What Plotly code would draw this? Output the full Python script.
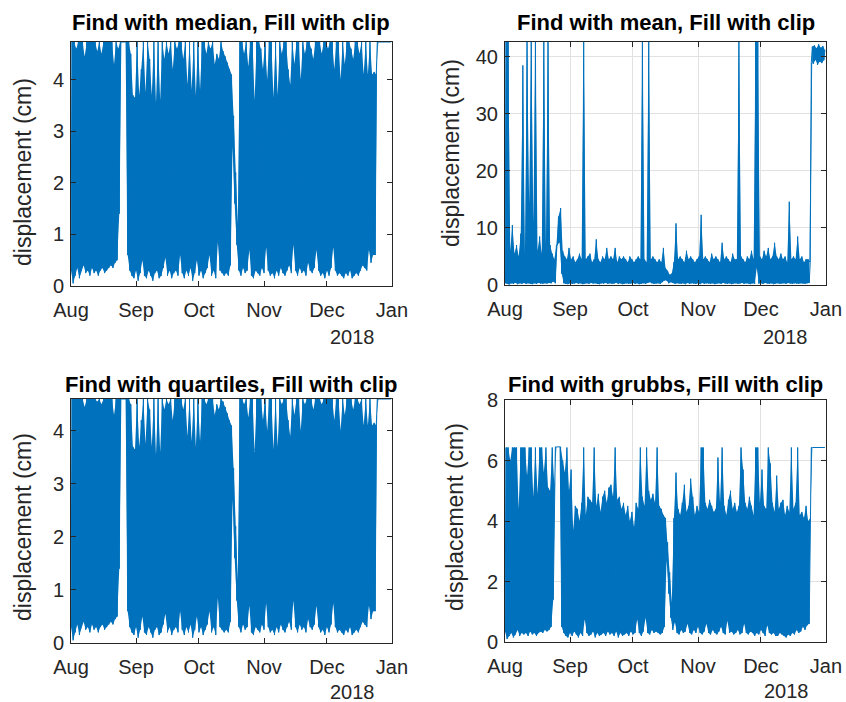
import pandas as pd
import plotly.graph_objects as go

# ---------------- data ----------------
START = "2018-08-01"
N_DAYS = 153  # Aug 1 .. Dec 31 (one low / high sample pair per day)
MONTH_TICKS = ["2018-08-01", "2018-09-01", "2018-10-01", "2018-11-01", "2018-12-01", "2019-01-01"]
MONTH_LABELS = ["Aug", "Sep", "Oct", "Nov", "Dec", "Jan"]
YEAR_LABEL = "2018"
TITLES = ["Find with median, Fill with clip", "Find with mean, Fill with clip",
          "Find with quartiles, Fill with clip", "Find with grubbs, Fill with clip"]
Y_LABEL = "displacement (cm)"

CLIP_MEDIAN = 4.73
CLIP_MEAN = 42.6
CLIP_QUART = 4.6
CLIP_GRUBBS = 6.43

Y_TICKS_SMALL = [0, 1, 2, 3, 4]
Y_TICKS_MEAN = [0, 10, 20, 30, 40]
Y_TICKS_GRUBBS = [0, 2, 4, 6, 8]

hi_median = [
    4.73, 4.73, 4.6, 4.73, 4.73, 4.73, 4.45, 4.73, 4.73, 4.73,
    4.73, 4.73, 4.55, 4.73, 4.5, 4.73, 4.73, 4.73, 4.73, 4.73,
    4.3, 4.73, 4.6, 4.73, 4.73, 4.73, 4.73, 4.73, 4.5, 3.7,
    3.65, 4.73, 3.7, 4.2, 4.73, 3.75, 4.73, 4.4, 3.7, 4.73,
    3.55, 4.73, 3.6, 4.73, 4.4, 4.73, 4.5, 4.73, 4.2, 4.73,
    4.6, 4.73, 4.73, 4.4, 4.73, 3.9, 4.73, 3.8, 4.73, 3.7,
    4.73, 3.8, 4.73, 4.73, 4.5, 4.73, 4.6, 4.73, 4.3, 4.5,
    4.4, 4.73, 4.55, 4.45, 4.33, 4.2, 4.1, 3.3, 2.2, 1.2,
    4.73, 4.73, 4.5, 4.73, 4.25, 4.73, 4.73, 3.6, 4.73, 4.73,
    4.6, 4.2, 4.73, 4.0, 4.73, 4.73, 3.65, 4.73, 3.7, 4.73,
    4.5, 4.73, 4.73, 4.2, 3.9, 4.73, 4.3, 4.73, 4.73, 4.0,
    4.73, 4.5, 4.73, 4.73, 4.6, 4.4, 4.73, 4.73, 4.73, 4.5,
    4.73, 4.73, 4.6, 4.73, 4.73, 4.2, 4.73, 4.73, 4.0, 4.73,
    4.3, 4.73, 4.73, 4.6, 4.4, 4.73, 4.73, 4.5, 4.73, 4.1,
    4.73, 4.1, 4.73, 4.1, 4.15, 4.1, 4.73, 4.73, 4.73, 4.73,
    4.73, 4.73, 4.73,
]
lo_median = [
    0.3, 0.05, 0.2, 0.35, 0.15, 0.3, 0.4, 0.25, 0.3, 0.2,
    0.35, 0.25, 0.3, 0.2, 0.3, 0.35, 0.25, 0.3, 0.35, 0.4,
    0.35, 0.45, 0.5, 1.4, 4.73, 4.73, 4.73, 0.6, 0.3, 0.2,
    0.15, 0.3, 0.1, 0.25, 0.5, 0.2, 0.15, 0.3, 0.2, 0.1,
    0.25, 0.3, 0.15, 0.2, 0.35, 0.55, 0.2, 0.3, 0.15, 0.25,
    0.3, 0.2, 0.6, 0.25, 0.15, 0.3, 0.2, 0.35, 0.1, 0.25,
    0.5, 0.2, 0.3, 0.15, 0.25, 0.35, 0.6, 0.2, 0.3, 0.15,
    0.85, 0.3, 0.25, 0.2, 0.25, 0.2, 0.4, 2.7, 1.6, 0.8,
    0.3, 0.2, 0.35, 0.25, 0.3, 0.7, 0.2, 0.15, 0.3, 0.25,
    0.2, 0.35, 0.25, 0.75, 0.3, 0.2, 0.25, 0.15, 0.3, 0.2,
    0.35, 0.25, 0.2, 0.3, 0.4, 0.25, 0.8, 0.3, 0.2, 0.35,
    0.25, 0.3, 0.2, 0.45, 0.3, 0.25, 0.35, 0.7, 0.3, 0.2,
    0.25, 0.15, 0.3, 0.2, 0.35, 0.75, 0.3, 0.2, 0.25, 0.2,
    0.15, 0.25, 0.2, 0.3, 0.15, 0.2, 0.25, 0.2, 0.3, 0.4,
    0.35, 0.3, 0.7, 0.45, 0.6, 0.6, 4.73, 4.73, 4.73, 4.73,
    4.73, 4.73, 4.73,
]

hi_mean = [
    42.6, 42.6, 6.0, 10.5, 5.5, 7.0, 5.0, 9.0, 38.5, 5.5,
    42.6, 14.3, 42.6, 11.0, 42.6, 6.0, 8.5, 5.5, 42.6, 7.0,
    42.6, 7.0, 5.5, 4.5, 7.0, 12.0, 13.5, 6.0, 5.0, 4.5,
    6.5, 4.5, 5.0, 4.0, 4.5, 5.5, 4.5, 42.6, 4.5, 5.0,
    5.5, 4.0, 4.5, 8.0, 4.5, 4.0, 5.0, 4.5, 6.5, 4.5,
    5.0, 4.5, 6.5, 4.0, 5.0, 4.5, 5.0, 4.5, 4.0, 5.0,
    4.5, 4.0, 4.5, 5.0, 4.5, 42.6, 4.5, 4.0, 42.6, 4.5,
    5.0, 4.5, 4.0, 4.5, 4.0, 6.5, 3.0, 2.5, 1.8, 2.0,
    4.0, 10.8, 4.5, 5.0, 4.5, 4.0, 6.0, 4.5, 5.0, 4.5,
    4.0, 4.5, 5.0, 12.3, 4.5, 5.0, 4.5, 4.0, 5.5, 4.5,
    5.0, 4.5, 4.0, 7.4, 4.5, 5.0, 4.5, 4.0, 5.5, 4.5,
    4.5, 42.6, 5.0, 4.5, 4.0, 5.0, 4.5, 6.0, 4.5, 42.6,
    42.6, 5.0, 4.5, 6.0, 5.0, 6.5, 4.5, 5.0, 7.4, 5.0,
    4.5, 5.5, 4.5, 5.0, 4.0, 14.6, 4.5, 5.0, 4.5, 8.5,
    4.5, 5.0, 4.0, 4.5, 4.5, 4.0, 41.8, 42.0, 41.5, 42.2,
    41.6, 41.9, 41.2,
]
lo_mean = [
    0.3, 0.2, 0.1, 0.3, 0.2, 0.4, 0.15, 0.3, 0.2, 0.35,
    0.2, 0.3, 0.25, 0.15, 0.3, 0.2, 0.35, 0.25, 0.2, 0.3,
    0.25, 0.35, 0.3, 0.6, 0.3, 7.0, 7.5, 2.0, 0.3, 0.2,
    0.15, 0.3, 0.2, 0.25, 0.35, 0.2, 0.3, 0.15, 0.25, 0.3,
    0.2, 0.35, 0.25, 0.3, 0.2, 0.15, 0.3, 0.25, 0.35, 0.2,
    0.3, 0.2, 0.25, 0.4, 0.2, 0.3, 0.15, 0.25, 0.3, 0.2,
    0.25, 0.35, 0.2, 0.3, 0.15, 0.25, 0.3, 0.2, 0.35, 0.5,
    0.3, 0.2, 0.25, 0.3, 0.2, 0.5, 0.8, 0.8, 0.3, 0.5,
    0.4, 0.2, 0.3, 0.25, 0.2, 0.3, 0.15, 0.35, 0.2, 0.3,
    0.25, 0.2, 0.3, 0.15, 0.35, 0.2, 0.3, 0.25, 0.2, 0.3,
    0.15, 0.25, 0.3, 0.2, 0.35, 0.25, 0.2, 0.3, 0.15, 0.25,
    0.3, 0.2, 0.25, 0.35, 0.2, 0.3, 0.25, 0.15, 0.3, 0.2,
    3.0, 0.25, 0.3, 0.2, 0.35, 0.25, 0.2, 0.3, 0.15, 0.25,
    0.3, 0.2, 0.25, 0.3, 0.2, 0.35, 0.25, 0.2, 0.3, 0.25,
    0.2, 0.3, 0.25, 0.2, 0.3, 0.35, 39.0, 38.8, 39.5, 38.6,
    39.2, 38.9, 39.4,
]

hi_grubbs = [
    6.43, 6.43, 6.0, 6.43, 6.43, 6.43, 4.4, 6.43, 6.43, 6.43,
    5.5, 6.43, 6.43, 4.8, 6.43, 4.9, 6.43, 6.43, 5.6, 6.43,
    5.1, 5.0, 6.43, 5.2, 6.45, 6.45, 6.45, 6.0, 5.6, 6.43,
    5.0, 5.7, 3.7, 4.5, 4.4, 4.0, 4.6, 6.43, 4.2, 4.8,
    4.7, 4.6, 6.43, 4.5, 4.9, 4.3, 4.8, 5.0, 4.6, 5.1,
    5.2, 4.8, 6.43, 4.7, 4.8, 4.4, 4.6, 4.2, 4.5, 4.0,
    4.3, 3.8, 4.6, 4.4, 6.43, 4.8, 4.5, 6.43, 5.0, 4.7,
    4.9, 4.6, 6.43, 4.5, 4.4, 4.2, 4.1, 3.3, 2.3, 1.3,
    4.1, 5.6, 4.4, 4.2, 4.6, 5.2, 4.3, 4.5, 5.4, 4.8,
    4.2, 4.5, 4.3, 6.43, 6.43, 4.6, 4.4, 4.7, 4.5, 4.3,
    4.4, 6.1, 4.6, 6.43, 4.5, 4.2, 4.7, 5.0, 4.4, 4.6,
    4.3, 4.5, 6.43, 5.7, 4.6, 4.4, 4.8, 4.5, 4.2, 6.43,
    6.43, 4.6, 5.7, 4.5, 4.4, 6.43, 5.9, 4.6, 4.3, 5.5,
    4.4, 4.6, 4.7, 4.2, 4.5, 4.3, 6.43, 4.4, 4.6, 6.43,
    4.2, 4.3, 4.1, 4.5, 4.0, 4.1, 6.43, 6.43, 6.43, 6.43,
    6.43, 6.43, 6.43,
]
lo_grubbs = [
    0.35, 0.1, 0.2, 0.3, 0.15, 0.25, 0.4, 0.2, 0.3, 0.25,
    0.3, 0.2, 0.35, 0.25, 0.3, 0.2, 0.3, 0.35, 0.3, 0.4,
    0.35, 0.4, 0.5, 1.4, 6.45, 6.45, 6.45, 0.5, 0.3, 0.2,
    0.15, 0.3, 0.2, 0.35, 0.25, 0.15, 0.3, 0.2, 0.75, 0.3,
    0.2, 0.25, 0.35, 0.15, 0.3, 0.2, 0.25, 0.3, 0.2, 0.35,
    0.25, 0.3, 0.2, 0.35, 0.15, 0.3, 0.2, 0.25, 0.3, 0.2,
    0.35, 0.25, 0.3, 0.75, 0.3, 0.2, 0.35, 0.8, 0.3, 0.25,
    0.4, 0.3, 0.35, 0.3, 0.25, 0.3, 0.5, 2.7, 1.6, 0.8,
    0.4, 0.65, 0.3, 0.25, 0.4, 0.3, 0.35, 0.6, 0.3, 0.25,
    0.4, 0.3, 0.5, 0.3, 0.25, 0.35, 0.6, 0.3, 0.25, 0.4,
    0.3, 0.25, 0.35, 0.5, 0.3, 0.25, 0.7, 0.3, 0.35, 0.25,
    0.3, 0.4, 0.25, 0.3, 0.6, 0.3, 0.25, 0.35, 0.3, 0.2,
    0.3, 0.25, 0.4, 0.3, 0.2, 0.55, 0.3, 0.25, 0.3, 0.2,
    0.2, 0.3, 0.25, 0.2, 0.15, 0.25, 0.2, 0.3, 0.25, 0.4,
    0.3, 0.35, 0.5, 0.4, 0.55, 0.6, 6.43, 6.43, 6.43, 6.43,
    6.43, 6.43, 6.43,
]

# quartile-based detection gives the same series as the median one, clipped lower
hi_quart = [min(v, CLIP_QUART) for v in hi_median]
lo_quart = [min(v, CLIP_QUART) for v in lo_median]

for arr in (hi_median, lo_median, hi_mean, lo_mean, hi_grubbs, lo_grubbs):
    assert len(arr) == N_DAYS, len(arr)

# ---------------- figure ----------------
W, H = 846, 702
BLUE = "#0072BD"
AX = "#262626"
FONT = "Liberation Sans, Arial, Helvetica, sans-serif"

day_times = pd.date_range(START, periods=N_DAYS, freq="D")
half_times = day_times + pd.Timedelta(hours=12)


def zigzag(lo, hi):
    xs, ys = [], []
    for t, h, a, b in zip(day_times, half_times, lo, hi):
        xs += [t, h]
        ys += [a, b]
    return xs, ys


def px_x(p):
    return p / W


def px_y(p):
    return 1 - p / H


panels = [
    # (lo, hi, ymax, yticks, grid, x-domain px, y-domain px, title_y px, ylabel (x, y) px, year (x, y) px)
    (lo_median, hi_median, CLIP_MEDIAN, Y_TICKS_SMALL, False, (71, 392), (42, 286), 23, (23, 172), (352, 337)),
    (lo_mean, hi_mean, CLIP_MEAN, Y_TICKS_MEAN, True, (505, 826), (42, 285), 23, (451, 153), (785, 337)),
    (lo_quart, hi_quart, CLIP_QUART, Y_TICKS_SMALL, False, (71, 392), (399, 643), 384, (23, 527), (352, 692)),
    (lo_grubbs, hi_grubbs, 8, Y_TICKS_GRUBBS, True, (505, 826), (400, 642), 384, (455, 517), (786, 691)),
]

fig = go.Figure()
annotations = []
for i, (lo, hi, ymax, yt, grid, xd, yd, ty, ylab, yr) in enumerate(panels):
    n = "" if i == 0 else str(i + 1)
    xa, ya = "x" + n, "y" + n
    # solid body between the daily lows and highs
    fig.add_trace(go.Scatter(x=list(day_times), y=lo, mode="lines", line=dict(width=0, color=BLUE),
                             xaxis=xa, yaxis=ya, showlegend=False, hoverinfo="skip"))
    fig.add_trace(go.Scatter(x=list(half_times), y=hi, mode="lines", line=dict(width=0, color=BLUE),
                             fill="tonexty", fillcolor=BLUE,
                             xaxis=xa, yaxis=ya, showlegend=False, hoverinfo="skip"))
    # the signal line itself
    xs, ys = zigzag(lo, hi)
    fig.add_trace(go.Scatter(x=xs, y=ys, mode="lines", line=dict(color=BLUE, width=1),
                             xaxis=xa, yaxis=ya, showlegend=False, hoverinfo="skip"))
    common = dict(showline=True, linecolor=AX, linewidth=1, mirror="ticks", ticks="inside",
                  ticklen=5, tickcolor=AX, tickwidth=1, showgrid=grid, gridcolor="#e1e1e1",
                  gridwidth=1, zeroline=False, automargin=False,
                  tickfont=dict(family=FONT, size=20, color=AX))
    fig.layout["xaxis" + n] = dict(common, type="date", anchor=ya,
                                   domain=[px_x(xd[0]), px_x(xd[1])],
                                   range=["2018-07-31 23:50", "2019-01-01 00:10"],
                                   tickmode="array", tickvals=MONTH_TICKS, ticktext=MONTH_LABELS,
                                   ticklabelstandoff=6)
    fig.layout["yaxis" + n] = dict(common, anchor=xa,
                                   domain=[px_y(yd[1]), px_y(yd[0])],
                                   range=[0, ymax], tickmode="array", tickvals=yt,
                                   ticklabelstandoff=2)
    annotations.append(dict(text="<b>%s</b>" % TITLES[i], x=px_x((xd[0] + xd[1]) / 2), y=px_y(ty),
                            xref="paper", yref="paper", showarrow=False, xanchor="center",
                            yanchor="middle", font=dict(family=FONT, size=22, color="#000000")))
    annotations.append(dict(text=Y_LABEL, x=px_x(ylab[0]), y=px_y(ylab[1]), xref="paper", yref="paper",
                            showarrow=False, textangle=-90, xanchor="center", yanchor="middle",
                            font=dict(family=FONT, size=23, color=AX)))
    annotations.append(dict(text=YEAR_LABEL, x=px_x(yr[0]), y=px_y(yr[1]), xref="paper", yref="paper",
                            showarrow=False, xanchor="center", yanchor="middle",
                            font=dict(family=FONT, size=20, color=AX)))

fig.update_layout(width=W, height=H, autosize=False, margin=dict(l=0, r=0, t=0, b=0),
                  paper_bgcolor="white", plot_bgcolor="white", annotations=annotations,
                  showlegend=False, hovermode=False)

# the page's default body margin would shift the figure; remove it
fig.write_html("out.html", config={"displayModeBar": False, "staticPlot": True},
               post_script="document.body.style.margin='0px';document.body.style.overflow='hidden';")
